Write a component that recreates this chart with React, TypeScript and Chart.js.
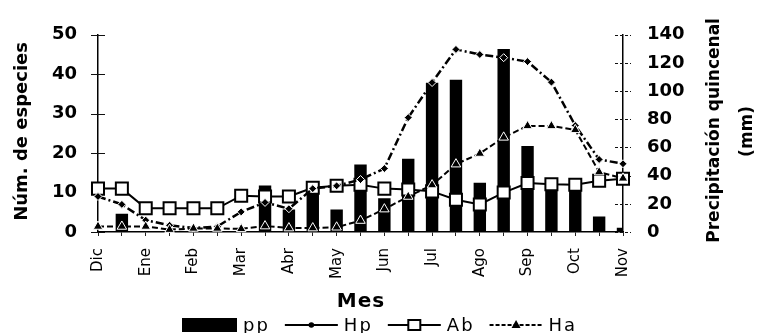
import React, { useEffect, useRef } from 'react';
import { Chart, registerables } from 'chart.js';

Chart.register(...registerables);

// Half-month categories (Dic .. Nov), labels only on the first half of each month
const categories = ['Dic', '', 'Ene', '', 'Feb', '', 'Mar', '', 'Abr', '', 'May', '', 'Jun', '', 'Jul', '', 'Ago', '', 'Sep', '', 'Oct', '', 'Nov'];

// Precipitación quincenal (mm) - right axis
const ppValues = [0, 13, 0, 0, 0, 0, 0, 33, 16, 33, 16, 48, 24, 52, 106, 108, 35, 130, 61, 34, 34, 11, 3];
// Número de especies - left axis
const hpValues = [9, 7, 3, 1.7, 1, 1.4, 5.1, 7.5, 5.9, 11, 11.7, 13.3, 16.1, 29, 37.9, 46.3, 45, 44.2, 43.2, 38, 27, 18.4, 17.3];
const abValues = [11, 11, 6, 6, 6, 6, 9.2, 9, 9, 11.2, 11.7, 12, 11, 10.8, 10.3, 8.2, 7, 10, 12.4, 12.1, 12, 13, 13.5];
const haValues = [1.4, 1.4, 1.4, 0.6, 0.9, 0.9, 0.8, 1.5, 1, 1, 1.2, 2.9, 5.8, 9, 11.9, 17.2, 19.9, 24, 26.9, 26.9, 25.9, 15.2, 13.6];

const leftTicksMax = 50;
const rightTicksMax = 140;

const FONT = '"DejaVu Sans", Verdana, sans-serif';

const decorPlugin = {
  id: 'decor',
  beforeDatasetsDraw(chart: any) {
    const { ctx, chartArea } = chart;
    const yL = chart.scales.y;
    const yR = chart.scales.y1;
    ctx.save();
    ctx.strokeStyle = '#111';
    ctx.lineWidth = 1;
    yL.ticks.forEach((_t: any, i: number) => {
      const py = Math.round(yL.getPixelForTick(i)) + 0.5;
      ctx.beginPath();
      ctx.moveTo(chartArea.left - 7, py);
      ctx.lineTo(chartArea.left + 7, py);
      ctx.stroke();
    });
    ctx.setLineDash([3, 2]);
    yR.ticks.forEach((_t: any, i: number) => {
      const py = Math.round(yR.getPixelForTick(i)) + 0.5;
      ctx.beginPath();
      ctx.moveTo(chartArea.right - 8, py);
      ctx.lineTo(chartArea.right + 8, py);
      ctx.stroke();
    });
    ctx.restore();
  },
  afterDraw(chart: any) {
    const { ctx, chartArea } = chart;
    const cy = (chartArea.top + chartArea.bottom) / 2;
    ctx.save();
    ctx.setTransform(1, 0, 0, 1, 0, 0);
    ctx.fillStyle = '#000';
    ctx.textAlign = 'center';
    ctx.textBaseline = 'middle';

    const vText = (text: string, x: number, y: number, font: string) => {
      ctx.save();
      ctx.font = font;
      ctx.translate(x, y);
      ctx.rotate(-Math.PI / 2);
      ctx.textAlign = 'center';
      ctx.textBaseline = 'middle';
      ctx.fillText(text, 0, 0);
      ctx.restore();
    };

    vText('Núm. de especies', 22, cy - 2, `bold 18px ${FONT}`);
    vText('Precipitación quincenal', 715, cy - 3, `bold 17px ${FONT}`);
    vText('(mm)', 748, cy - 2, `bold 17px ${FONT}`);

    // X title
    ctx.save();
    ctx.font = `bold 20px ${FONT}`;
    (ctx as any).letterSpacing = '1px';
    ctx.fillText('Mes', (chartArea.left + chartArea.right) / 2 + 0.5, 302);
    ctx.restore();

    // Legend
    ctx.save();
    ctx.font = `18px ${FONT}`;
    (ctx as any).letterSpacing = '2px';
    ctx.textAlign = 'left';
    ctx.textBaseline = 'alphabetic';
    const ly = 325;
    let x = 182;
    chart.data.datasets.forEach((ds: any) => {
      if (ds.type === 'bar' || !ds.type) {
        ctx.fillStyle = '#000';
        ctx.fillRect(x, ly - 7, 55, 14);
        x += 55;
      } else {
        const w = 53;
        ctx.strokeStyle = '#000';
        ctx.lineWidth = 2;
        ctx.setLineDash(ds.label === 'Ha' ? [4, 2] : []);
        ctx.beginPath();
        ctx.moveTo(x, ly);
        ctx.lineTo(x + w, ly);
        ctx.stroke();
        ctx.setLineDash([]);
        const mx = x + w / 2;
        if (ds.pointStyle === 'rect') {
          ctx.fillStyle = '#fff';
          ctx.fillRect(mx - 6, ly - 5, 12, 10);
          ctx.lineWidth = 2;
          ctx.strokeRect(mx - 6, ly - 5, 12, 10);
        } else if (ds.pointStyle === 'triangle') {
          ctx.fillStyle = '#000';
          ctx.beginPath();
          ctx.moveTo(mx, ly - 5);
          ctx.lineTo(mx + 4.5, ly + 3);
          ctx.lineTo(mx - 4.5, ly + 3);
          ctx.closePath();
          ctx.fill();
        } else {
          ctx.fillStyle = '#000';
          ctx.beginPath();
          ctx.arc(mx, ly, 2.8, 0, Math.PI * 2);
          ctx.fill();
        }
        x += w;
      }
      x += 6;
      ctx.fillStyle = '#000';
      ctx.fillText(ds.label, x, ly + 6);
      x += ctx.measureText(ds.label).width + 15;
    });
    ctx.restore();

    ctx.restore();
  },
};

export default function App() {
  const ref = useRef<HTMLCanvasElement>(null);

  useEffect(() => {
    document.body.style.margin = '0';
    const canvas = ref.current;
    if (!canvas) return;
    const chart = new Chart(canvas, {
      type: 'bar',
      data: {
        labels: categories,
        datasets: [
          {
            type: 'bar',
            label: 'pp',
            data: ppValues,
            yAxisID: 'y1',
            backgroundColor: '#000',
            borderWidth: 0,
            barPercentage: 0.52,
            categoryPercentage: 1,
            order: 10,
          } as any,
          {
            type: 'line',
            label: 'Hp',
            data: hpValues,
            yAxisID: 'y',
            borderColor: '#000',
            borderWidth: 2.5,
            borderDash: [8, 3, 2, 3],
            tension: 0,
            pointStyle: 'rectRot',
            pointRadius: 4,
            pointBackgroundColor: '#000',
            pointBorderColor: '#fff',
            pointBorderWidth: 1,
            order: 2,
            clip: false,
          } as any,
          {
            type: 'line',
            label: 'Ab',
            data: abValues,
            yAxisID: 'y',
            borderColor: '#000',
            borderWidth: 2,
            tension: 0,
            pointStyle: 'rect',
            pointRadius: 8.5,
            pointBackgroundColor: '#fff',
            pointBorderColor: '#000',
            pointBorderWidth: 2,
            order: 3,
            clip: false,
          } as any,
          {
            type: 'line',
            label: 'Ha',
            data: haValues,
            yAxisID: 'y',
            borderColor: '#000',
            borderWidth: 2,
            borderDash: [6, 3],
            tension: 0,
            pointStyle: 'triangle',
            pointRadius: 5.5,
            pointBackgroundColor: '#000',
            pointBorderColor: '#fff',
            pointBorderWidth: 1,
            order: 1,
            clip: false,
          } as any,
        ],
      },
      options: {
        animation: false,
        responsive: true,
        maintainAspectRatio: false,
        layout: { padding: { top: 18, left: 0, right: 0, bottom: 0 } },
        plugins: {
          legend: { display: false },
          tooltip: { enabled: false },
        },
        scales: {
          x: {
            type: 'category',
            offset: false,
            grid: {
              offset: false,
              display: true,
              drawOnChartArea: false,
              drawTicks: true,
              tickLength: 4,
              color: '#222',
              lineWidth: 1,
            },
            border: { display: true, color: '#000', width: 1.5, dash: [4, 3] },
            ticks: {
              autoSkip: false,
              maxRotation: 90,
              minRotation: 90,
              padding: 12,
              color: '#000',
              font: { family: FONT, size: 15 },
            },
            afterFit: (scale: any) => {
              scale.height = 101;
            },
          },
          y: {
            position: 'left',
            min: 0,
            max: leftTicksMax,
            ticks: {
              stepSize: 10,
              padding: 21,
              color: '#000',
              font: { family: FONT, size: 18, weight: 'bold' },
            },
            grid: { display: false, drawTicks: false },
            border: { display: true, color: '#000', width: 1.5 },
            afterFit: (scale: any) => {
              scale.width = 98;
            },
          },
          y1: {
            position: 'right',
            min: 0,
            max: rightTicksMax,
            ticks: {
              stepSize: 20,
              padding: 24,
              color: '#000',
              font: { family: FONT, size: 18, weight: 'bold' },
            },
            grid: { display: false, drawTicks: false },
            border: { display: true, color: '#000', width: 1.5 },
            afterFit: (scale: any) => {
              scale.width = 142;
            },
          },
        },
      } as any,
      plugins: [decorPlugin],
    });
    return () => chart.destroy();
  }, []);

  return (
    <div style={{ position: 'relative', width: 765, height: 333, background: '#fff' }}>
      <canvas ref={ref} />
    </div>
  );
}
